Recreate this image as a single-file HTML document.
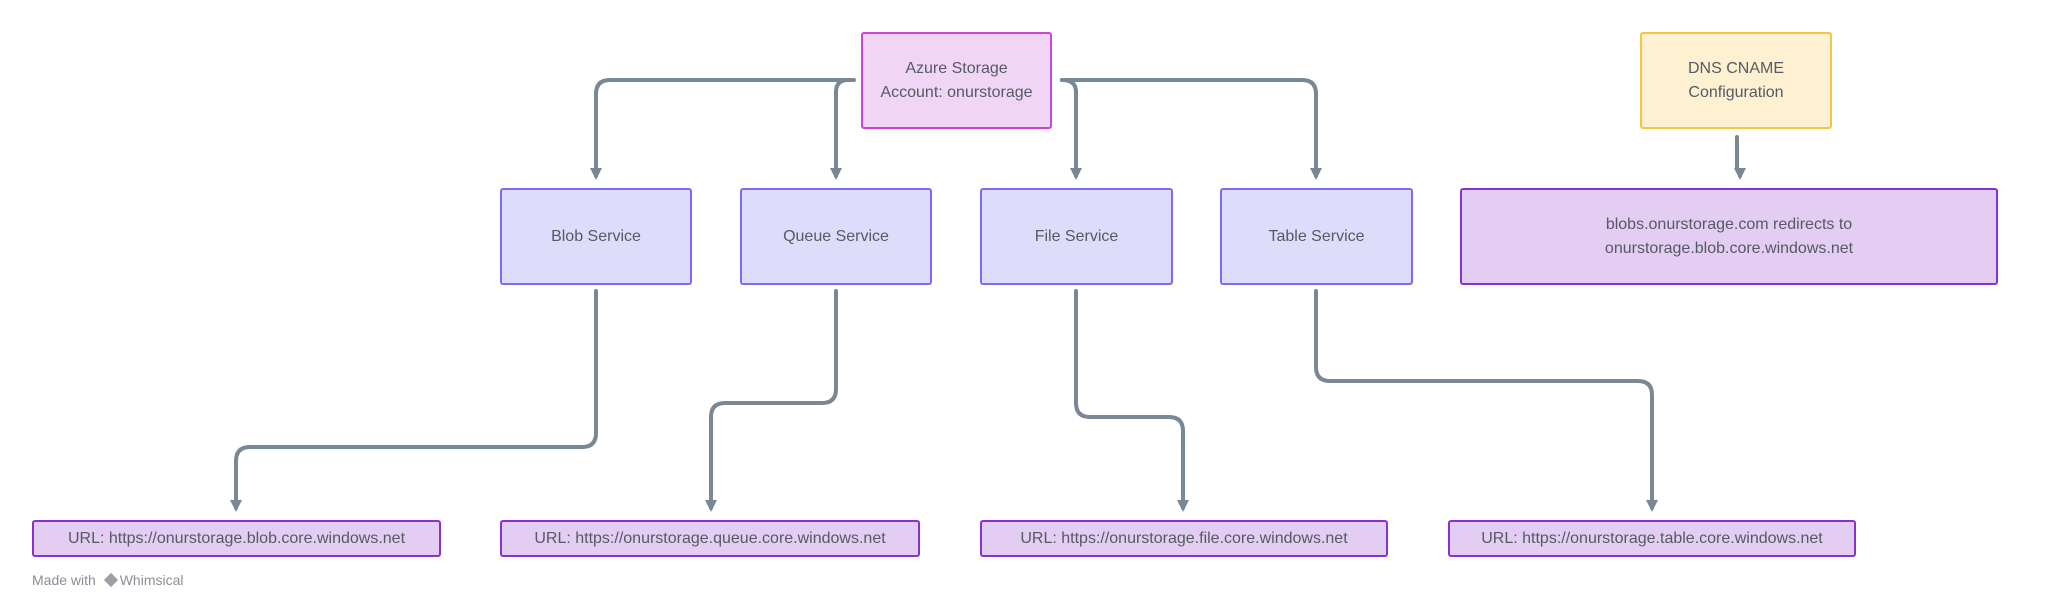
<!DOCTYPE html>
<html><head><meta charset="utf-8"><style>
body{margin:0;width:2057px;height:605px;background:#fff;position:relative;overflow:hidden;font-family:"Liberation Sans",sans-serif;}
.b{position:absolute;box-sizing:border-box;border:2px solid;border-radius:3px;display:flex;align-items:center;justify-content:center;text-align:center;color:#555a63;font-size:16px;line-height:24px;}
.s{background:#dedcfa;border-color:#7b6cf6;}
.u{background:#e3cdf2;border-color:#8a2fd0;}
svg{position:absolute;left:0;top:0}
</style></head><body>
<svg width="2057" height="605">
<defs><marker id="a" markerWidth="4" markerHeight="4" refX="2" refY="2" orient="auto" markerUnits="strokeWidth"><path d="M0,0.5 L3,2 L0,3.5z" fill="#7a8794"/></marker></defs>
<g fill="none" stroke="#7a8794" stroke-width="4" stroke-linecap="round">
<path d="M854,80 H610 Q596,80 596,94 V176" marker-end="url(#a)"/>
<path d="M848,80 Q836,80 836,92 V176" marker-end="url(#a)"/>
<path d="M1062,80 Q1076,80 1076,92 V176" marker-end="url(#a)"/>
<path d="M1062,80 H1302 Q1316,80 1316,94 V176" marker-end="url(#a)"/>
<path d="M596,291 V433 Q596,447 582,447 H250 Q236,447 236,461 V508" marker-end="url(#a)"/>
<path d="M836,291 V389 Q836,403 822,403 H725 Q711,403 711,417 V508" marker-end="url(#a)"/>
<path d="M1076,291 V403 Q1076,417 1090,417 H1169 Q1183,417 1183,431 V508" marker-end="url(#a)"/>
<path d="M1316,291 V367 Q1316,381 1330,381 H1638 Q1652,381 1652,395 V508" marker-end="url(#a)"/>
<path d="M1737,137 V168 Q1737,172 1740,172 V176" marker-end="url(#a)"/>
</g></svg>
<div class="b" style="left:861px;top:32px;width:191px;height:97px;background:#f0d6f4;border-color:#cc44d8;">Azure Storage<br>Account: onurstorage</div>
<div class="b" style="left:1640px;top:32px;width:192px;height:97px;background:#fdf1d2;border-color:#f5c542;">DNS CNAME<br>Configuration</div>
<div class="b s" style="left:500px;top:188px;width:192px;height:97px;">Blob Service</div>
<div class="b s" style="left:740px;top:188px;width:192px;height:97px;">Queue Service</div>
<div class="b s" style="left:980px;top:188px;width:193px;height:97px;">File Service</div>
<div class="b s" style="left:1220px;top:188px;width:193px;height:97px;">Table Service</div>
<div class="b u" style="left:1460px;top:188px;width:538px;height:97px;">blobs.onurstorage.com redirects to<br>onurstorage.blob.core.windows.net</div>
<div class="b u" style="left:32px;top:520px;width:409px;height:37px;">URL: https://onurstorage.blob.core.windows.net</div>
<div class="b u" style="left:500px;top:520px;width:420px;height:37px;">URL: https://onurstorage.queue.core.windows.net</div>
<div class="b u" style="left:980px;top:520px;width:408px;height:37px;">URL: https://onurstorage.file.core.windows.net</div>
<div class="b u" style="left:1448px;top:520px;width:408px;height:37px;">URL: https://onurstorage.table.core.windows.net</div>
<div style="position:absolute;left:32px;top:572px;font-size:14px;color:#8a8f96;">Made with <span style="display:inline-block;width:10px;height:10px;background:#9aa0a6;transform:rotate(45deg);margin:0 4px 0 6px;"></span>Whimsical</div>
</body></html>
